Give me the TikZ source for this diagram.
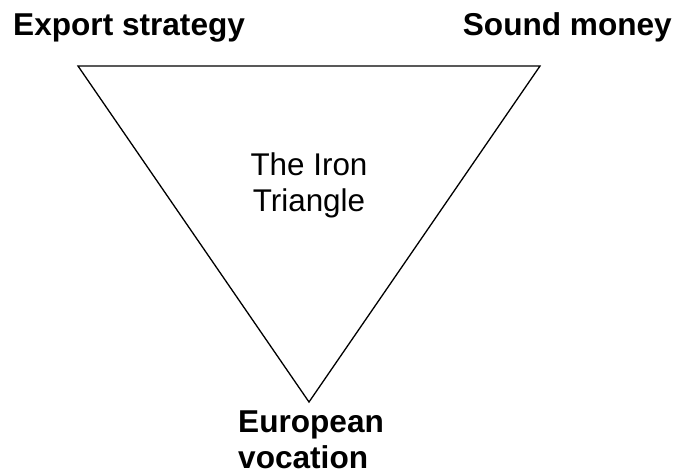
\documentclass[tikz,border=0pt]{standalone}
\usepackage{fontspec}
\setmainfont{Liberation Sans}
\tikzset{
  cornerlabel/.style={font=\fontsize{31.6}{36}\selectfont\bfseries,inner sep=0pt},
  centrelabel/.style={font=\fontsize{31.4}{36}\selectfont,inner sep=0pt,align=center},
}
\begin{document}
\begin{tikzpicture}[x=1pt,y=-1pt]
    \useasboundingbox (0,0) rectangle (679,472);

    % Triangle corners
    \coordinate (ex) at (78,66);
    \coordinate (sm) at (540,66);
    \coordinate (eu) at (309,402);
    \draw[line width=1.3pt] (ex) -- (sm) -- (eu) -- cycle;

    % Corner labels
    \node[cornerlabel,anchor=base west] (exlabel) at (13,35) {Export strategy};
    \node[cornerlabel,anchor=base east] (smlabel) at (672,35) {Sound money};
    \node[cornerlabel,align=left,anchor=north west] (eulabel) at (238,411)
      {European\\vocation};

    % Title inside
    \node[centrelabel,anchor=north] (title) at (309,153) {The Iron\\Triangle};
  \end{tikzpicture}
\end{document}
